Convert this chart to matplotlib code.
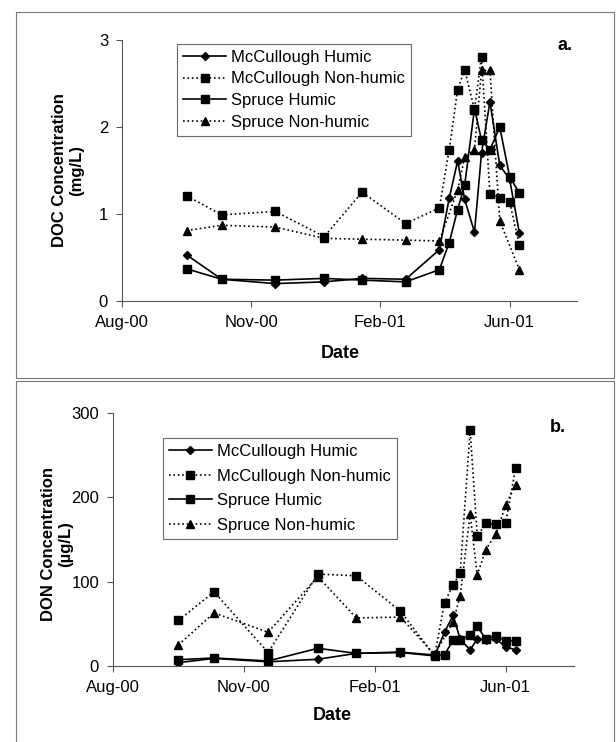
import numpy as np
import pandas as pd
import matplotlib
matplotlib.use("Agg")
import matplotlib.pyplot as plt
from matplotlib.lines import Line2D

plt.rcParams["font.family"] = ["Liberation Sans", "DejaVu Sans"]

# Sampling dates (same for both panels)
dates = ["2000-10-05", "2000-10-30", "2000-12-07", "2001-01-11", "2001-02-07",
         "2001-03-10", "2001-04-03", "2001-04-10", "2001-04-16", "2001-04-21",
         "2001-04-28", "2001-05-03", "2001-05-09", "2001-05-16", "2001-05-23",
         "2001-05-30"]
origin = pd.Timestamp("2000-08-20")
tick_labels = ["Aug-00", "Nov-00", "Feb-01", "Jun-01"]
tick_days = [0, 92, 184, 276]

series_names = ["McCullough Humic", "McCullough Non-humic", "Spruce Humic", "Spruce Non-humic"]

# DOC (mg/L)
doc_mcc_h = [0.53, 0.25, 0.20, 0.22, 0.26, 0.25, 0.59, 1.18, 1.61, 1.17, 0.79, 1.70, 2.29, 1.56, 1.40, 0.78]
doc_mcc_nh = [1.21, 0.99, 1.03, 0.74, 1.25, 0.89, 1.07, 1.74, 2.43, 2.66, 2.20, 2.81, 1.23, 1.18, 1.14, 0.64]
doc_spr_h = [0.37, 0.25, 0.24, 0.26, 0.24, 0.22, 0.36, 0.67, 1.05, 1.33, 2.21, 1.85, 1.74, 2.00, 1.43, 1.24]
doc_spr_nh = [0.81, 0.87, 0.85, 0.72, 0.71, 0.70, 0.69, None, 1.28, 1.65, 1.74, 2.65, 2.65, 0.92, None, 0.36]

# DON (ug/L)
don_mcc_h = [4, 9, 5, 8, 15, 16, 12, 40, 60, 32, 19, 32, 31, 32, 23, 19]
don_mcc_nh = [54, 88, 16, 109, 107, 65, 12, 75, 96, 110, 280, 154, 169, 168, 170, 235]
don_spr_h = [7.5, 9.5, 6, 21, 15, 16.5, 13, 13.5, 30.5, 30.5, 37, 47, 32, 36, 30, 30]
don_spr_nh = [25, 63, 40, 106, 57, 58, 13.5, None, 52, 83, 180, 108, 138, 156, 191, 215]

x = np.array((pd.to_datetime(dates) - origin).days, dtype=float)

styles = [
    dict(linestyle="-", marker="D", markersize=4.5),
    dict(linestyle=":", marker="s", markersize=6),
    dict(linestyle="-", marker="s", markersize=6),
    dict(linestyle=":", marker="^", markersize=6),
]

W, H = 616, 742
fig = plt.figure(figsize=(W / 100, H / 100), dpi=100)


def draw_panel(rect, data, yticks, ylabel, letter, letter_xy, ylabel_xy, date_xy, leg_anchor, leg_spacing):
    ax = fig.add_axes(rect)
    for vals, st in zip(data, styles):
        v = np.array([np.nan if a is None else a for a in vals], dtype=float)
        m = ~np.isnan(v)
        ax.plot(x[m], v[m], color="black", linewidth=1.2, markerfacecolor="black",
                markeredgecolor="black", **st)
    ax.set_xlim(0, 324)
    ax.set_ylim(yticks[0], yticks[-1])
    ax.set_xticks(tick_days)
    ax.set_xticklabels(tick_labels)
    ax.set_yticks(yticks)
    for s in ["top", "right"]:
        ax.spines[s].set_visible(False)
    for s in ["left", "bottom"]:
        ax.spines[s].set_color("#555555")
        ax.spines[s].set_linewidth(0.8)
    ax.tick_params(direction="out", length=4, width=0.8, color="#555555", labelsize=12, pad=6)
    handles = [Line2D([], [], color="black", linewidth=1.2, markerfacecolor="black", **st) for st in styles]
    leg = ax.legend(handles, series_names, loc="upper left", bbox_to_anchor=leg_anchor,
                    borderaxespad=0, fontsize=12, frameon=True, fancybox=False,
                    edgecolor="#444444", handlelength=2.6, handletextpad=0.3,
                    labelspacing=leg_spacing, borderpad=0.35)
    leg.get_frame().set_linewidth(0.8)
    fig.text(letter_xy[0] / W, 1 - letter_xy[1] / H, letter, fontsize=13, fontweight="bold",
             ha="center", va="center")
    fig.text(ylabel_xy[0] / W, 1 - ylabel_xy[1] / H, ylabel, fontsize=12, fontweight="bold",
             rotation=90, ha="center", va="center", multialignment="center", linespacing=1.15)
    fig.text(date_xy[0] / W, 1 - date_xy[1] / H, "Date", fontsize=13, fontweight="bold",
             ha="center", va="center")
    return ax


# panel a
draw_panel([122 / W, 1 - 301 / H, 455 / W, 261 / H],
           [doc_mcc_h, doc_mcc_nh, doc_spr_h, doc_spr_nh], [0, 1, 2, 3],
           "DOC Concentration\n(mg/L)", "a.", (565, 46), (68, 170), (340, 354),
           (0.121, 0.985), 0.4)

# panel b
draw_panel([113 / W, 1 - 666 / H, 461 / W, 253 / H],
           [don_mcc_h, don_mcc_nh, don_spr_h, don_spr_nh], [0, 100, 200, 300],
           "DON Concentration\n(µg/L)", "b.", (558, 427), (57, 544), (332, 716),
           (0.108, 0.901), 0.58)

# faint chart-area frames
frame_kw = dict(color="#777777", linewidth=0.8, transform=fig.transFigure)
for (l, t, r, b) in [(16, 12, 614, 378), (16, 381, 614, 745)]:
    xs = [l / W, r / W, r / W, l / W, l / W]
    ys = [1 - t / H, 1 - t / H, 1 - b / H, 1 - b / H, 1 - t / H]
    fig.add_artist(Line2D(xs, ys, **frame_kw))

fig.savefig("out.png", dpi=100)
